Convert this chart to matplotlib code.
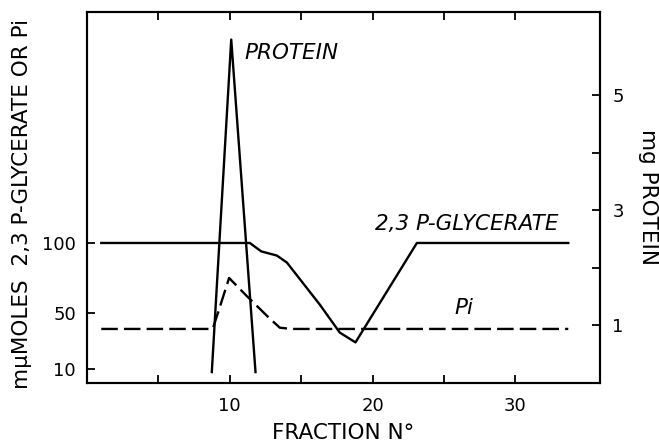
import numpy as np
import matplotlib.pyplot as plt

# data
fraction_gly = [1, 11.4, 12.2, 13.3, 14.0, 16.3, 17.7, 18.8, 23.1, 33.7]
glycerate = [100, 100, 94, 91, 86, 56, 36, 29, 100, 100]

fraction_pi = [1, 8.8, 9.2, 9.95, 11.2, 12.0, 12.8, 13.5, 14.3, 33.7]
pi_vals = [38.6, 38.6, 51, 75, 62, 54, 46, 39.5, 38.6, 38.6]

fraction_prot = [8.74, 10.1, 11.8]
protein = [0.19, 5.97, 0.19]

x_ticks = [5, 10, 15, 20, 25, 30]
x_ticklabels = ['', '10', '', '20', '', '30']
left_ticks = [10, 50, 100]
right_ticks = [1, 2, 3, 4, 5]
right_ticklabels = ['1', '', '3', '', '5']

plt.rcParams['font.family'] = ['DejaVu Sans']
FS = 13      # tick labels
LFS = 15.5   # axis labels and annotations

fig = plt.figure(figsize=(6.59, 4.42), dpi=100)
ax = fig.add_axes([0.132, 0.1335, 0.778, 0.8395])
ax2 = ax.twinx()

ax.plot(fraction_gly, glycerate, color='black', lw=1.7)
line_pi, = ax.plot(fraction_pi, pi_vals, color='black', lw=1.7)
line_pi.set_dashes((7, 2.6))
ax2.plot(fraction_prot, protein, color='black', lw=1.7)

ax.set_xlim(0, 35.9)
ax.set_ylim(0, 265)
ax2.set_ylim(0, 6.45)

ax.set_xticks(x_ticks)
ax.set_xticklabels(x_ticklabels, fontsize=FS)
ax.set_yticks(left_ticks)
ax.set_yticklabels([str(t) for t in left_ticks], fontsize=FS)
ax2.set_yticks(right_ticks)
ax2.set_yticklabels(right_ticklabels, fontsize=FS)

ax.tick_params(axis='x', direction='in', length=6, width=1.3, top=True, pad=10)
ax.tick_params(axis='y', direction='in', length=6, width=1.3, pad=8)
ax2.tick_params(axis='y', direction='in', length=6, width=1.3, pad=9)

for a in (ax, ax2):
    for s in a.spines.values():
        s.set_linewidth(1.5)

ax.set_xlabel('FRACTION N°', fontsize=LFS, labelpad=6)
ax.set_ylabel('mμMOLES  2,3 P-GLYCERATE OR Pi', fontsize=LFS)
ax.yaxis.set_label_coords(-0.108, 0.482)
ax2.set_ylabel('mg PROTEIN', fontsize=LFS, rotation=270, labelpad=25)

ax.text(11.0, 236, 'PROTEIN', fontsize=LFS, style='italic', va='center')
ax.text(20.2, 113.6, '2,3 P-GLYCERATE', fontsize=LFS, style='italic', va='center')
ax.text(26.4, 53.6, 'Pi', fontsize=LFS, style='italic', va='center', ha='center')

fig.savefig('out.png', dpi=100)
